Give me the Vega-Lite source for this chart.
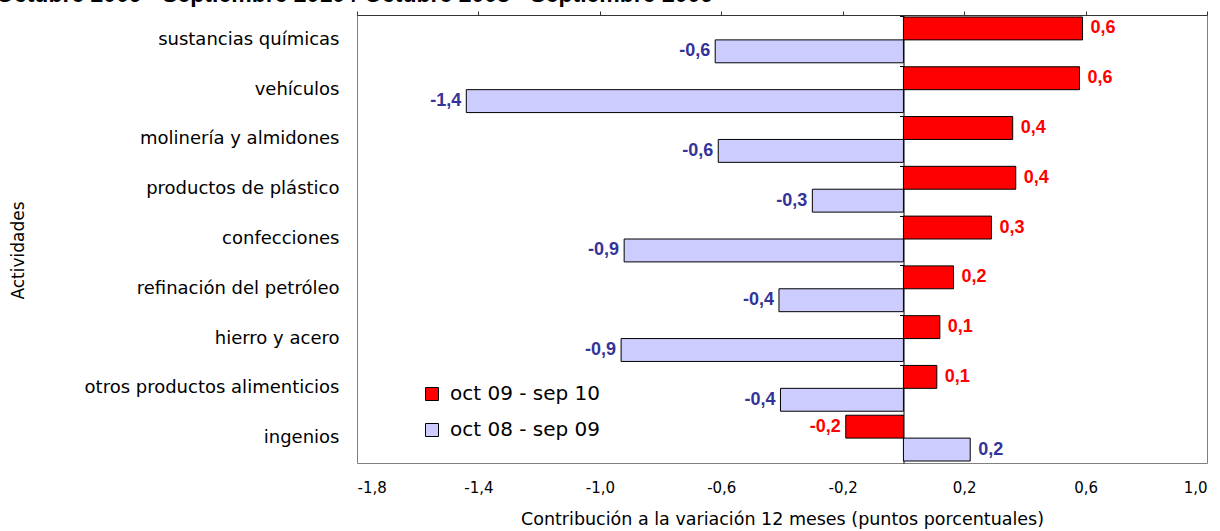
{
  "$schema": "https://vega.github.io/schema/vega-lite/v6.json",
  "width": 850,
  "height": 448,
  "autosize": {"type": "none"},
  "padding": {"left": 357, "top": 15, "right": 13, "bottom": 68},
  "title": {
    "text": "Octubre 2009 - Septiembre 2010 / Octubre 2008 - Septiembre 2009",
    "anchor": "start",
    "frame": "group",
    "font": "Liberation Sans",
    "fontSize": 23,
    "fontWeight": "bold",
    "color": "black",
    "baseline": "bottom",
    "offset": 5,
    "dx": -361,
    "dy": 24
  },
  "config": {
    "locale": {"number": {"decimal": ",", "thousands": ".", "grouping": [3], "currency": ["", " €"], "minus": "-"}},
    "font": "DejaVu Sans",
    "view": {"stroke": "#808080", "strokeWidth": 1},
    "axis": {"grid": false, "labelFont": "DejaVu Sans", "titleFont": "DejaVu Sans", "labelColor": "black", "titleColor": "black", "titleFontWeight": "normal"}
  },
  "data": {
    "values": [
      {"actividad": "sustancias químicas", "serie": "oct 09 - sep 10", "valor": 0.59},
      {"actividad": "sustancias químicas", "serie": "oct 08 - sep 09", "valor": -0.62},
      {"actividad": "vehículos", "serie": "oct 09 - sep 10", "valor": 0.58},
      {"actividad": "vehículos", "serie": "oct 08 - sep 09", "valor": -1.44},
      {"actividad": "molinería y almidones", "serie": "oct 09 - sep 10", "valor": 0.36},
      {"actividad": "molinería y almidones", "serie": "oct 08 - sep 09", "valor": -0.61},
      {"actividad": "productos de plástico", "serie": "oct 09 - sep 10", "valor": 0.37},
      {"actividad": "productos de plástico", "serie": "oct 08 - sep 09", "valor": -0.3},
      {"actividad": "confecciones", "serie": "oct 09 - sep 10", "valor": 0.29},
      {"actividad": "confecciones", "serie": "oct 08 - sep 09", "valor": -0.92},
      {"actividad": "refinación del petróleo", "serie": "oct 09 - sep 10", "valor": 0.165},
      {"actividad": "refinación del petróleo", "serie": "oct 08 - sep 09", "valor": -0.41},
      {"actividad": "hierro y acero", "serie": "oct 09 - sep 10", "valor": 0.12},
      {"actividad": "hierro y acero", "serie": "oct 08 - sep 09", "valor": -0.93},
      {"actividad": "otros productos alimenticios", "serie": "oct 09 - sep 10", "valor": 0.11},
      {"actividad": "otros productos alimenticios", "serie": "oct 08 - sep 09", "valor": -0.405},
      {"actividad": "ingenios", "serie": "oct 09 - sep 10", "valor": -0.19},
      {"actividad": "ingenios", "serie": "oct 08 - sep 09", "valor": 0.22}
    ]
  },
  "resolve": {"axis": {"x": "independent", "y": "independent"}},
  "layer": [
    {
      "mark": {"type": "bar", "stroke": "black", "strokeWidth": 1},
      "encoding": {
        "x": {
          "field": "valor", "type": "quantitative",
          "scale": {"domain": [-1.8, 1.0], "nice": false, "zero": false},
          "axis": {
            "orient": "bottom",
            "values": [-1.8, -1.4, -1.0, -0.6, -0.2, 0.2, 0.6, 1.0],
            "format": ".1f",
            "domain": false, "ticks": false,
            "labelFontSize": 15, "labelPadding": 17,
            "title": "Contribución a la variación 12 meses (puntos porcentuales)",
            "titleFontSize": 17.5, "titlePadding": 15
          }
        },
        "y": {
          "field": "actividad", "type": "nominal",
          "sort": ["sustancias químicas", "vehículos", "molinería y almidones", "productos de plástico", "confecciones", "refinación del petróleo", "hierro y acero", "otros productos alimenticios", "ingenios"],
          "scale": {"paddingInner": 0.08, "paddingOuter": 0.04},
          "axis": {
            "orient": "left", "domain": false, "ticks": false,
            "labelFontSize": 18, "labelPadding": 18, "labelLimit": 400,
            "title": "Actividades", "titleFontSize": 17,
            "titleX": -339, "titleY": 235, "titleBaseline": "middle", "titleAlign": "center", "titleAngle": -90
          }
        },
        "yOffset": {"field": "serie", "type": "nominal", "scale": {"domain": ["oct 09 - sep 10", "oct 08 - sep 09"]}},
        "color": {
          "field": "serie", "type": "nominal",
          "scale": {"domain": ["oct 09 - sep 10", "oct 08 - sep 09"], "range": ["#FF0000", "#CCCCFF"]},
          "legend": {
            "title": null, "orient": "none", "legendX": 65, "legendY": 369,
            "symbolType": "square", "symbolSize": 169, "symbolStrokeColor": "black", "symbolStrokeWidth": 1,
            "labelFontSize": 20, "labelFont": "DejaVu Sans", "labelColor": "black", "rowPadding": 16, "labelOffset": 8
          }
        }
      }
    },
    {
      "transform": [{"filter": "datum.valor >= 0"}],
      "mark": {"type": "text", "align": "left", "baseline": "middle", "dx": 8, "font": "Liberation Sans", "fontSize": 18, "fontWeight": "bold"},
      "encoding": {
        "x": {
          "field": "valor", "type": "quantitative",
          "axis": {
            "orient": "top", "values": [-1.8, -1.4, -1.0, -0.6, -0.2, 0.2, 0.6, 1.0],
            "labels": false, "ticks": true, "tickSize": 4, "tickColor": "#333333",
            "domain": true, "domainColor": "#333333", "title": null
          }
        },
        "y": {
          "field": "actividad", "type": "nominal",
          "sort": ["sustancias químicas", "vehículos", "molinería y almidones", "productos de plástico", "confecciones", "refinación del petróleo", "hierro y acero", "otros productos alimenticios", "ingenios"],
          "axis": {
            "orient": "left", "offset": -546.5, "labels": false, "title": null,
            "domain": true, "domainColor": "black", "ticks": true, "tickSize": 4, "tickColor": "black", "bandPosition": 0
          }
        },
        "yOffset": {"field": "serie", "type": "nominal", "scale": {"domain": ["oct 09 - sep 10", "oct 08 - sep 09"]}},
        "text": {"field": "valor", "type": "quantitative", "format": ".1f"},
        "color": {"condition": {"test": "datum.serie == 'oct 09 - sep 10'", "value": "#FF0000"}, "value": "#333399"}
      }
    },
    {
      "transform": [{"filter": "datum.valor < 0"}],
      "mark": {"type": "text", "align": "right", "baseline": "middle", "dx": -5, "font": "Liberation Sans", "fontSize": 18, "fontWeight": "bold"},
      "encoding": {
        "x": {"field": "valor", "type": "quantitative", "axis": null},
        "y": {
          "field": "actividad", "type": "nominal",
          "sort": ["sustancias químicas", "vehículos", "molinería y almidones", "productos de plástico", "confecciones", "refinación del petróleo", "hierro y acero", "otros productos alimenticios", "ingenios"],
          "axis": null
        },
        "yOffset": {"field": "serie", "type": "nominal", "scale": {"domain": ["oct 09 - sep 10", "oct 08 - sep 09"]}},
        "text": {"field": "valor", "type": "quantitative", "format": ".1f"},
        "color": {"condition": {"test": "datum.serie == 'oct 09 - sep 10'", "value": "#FF0000"}, "value": "#333399"}
      }
    }
  ]
}
